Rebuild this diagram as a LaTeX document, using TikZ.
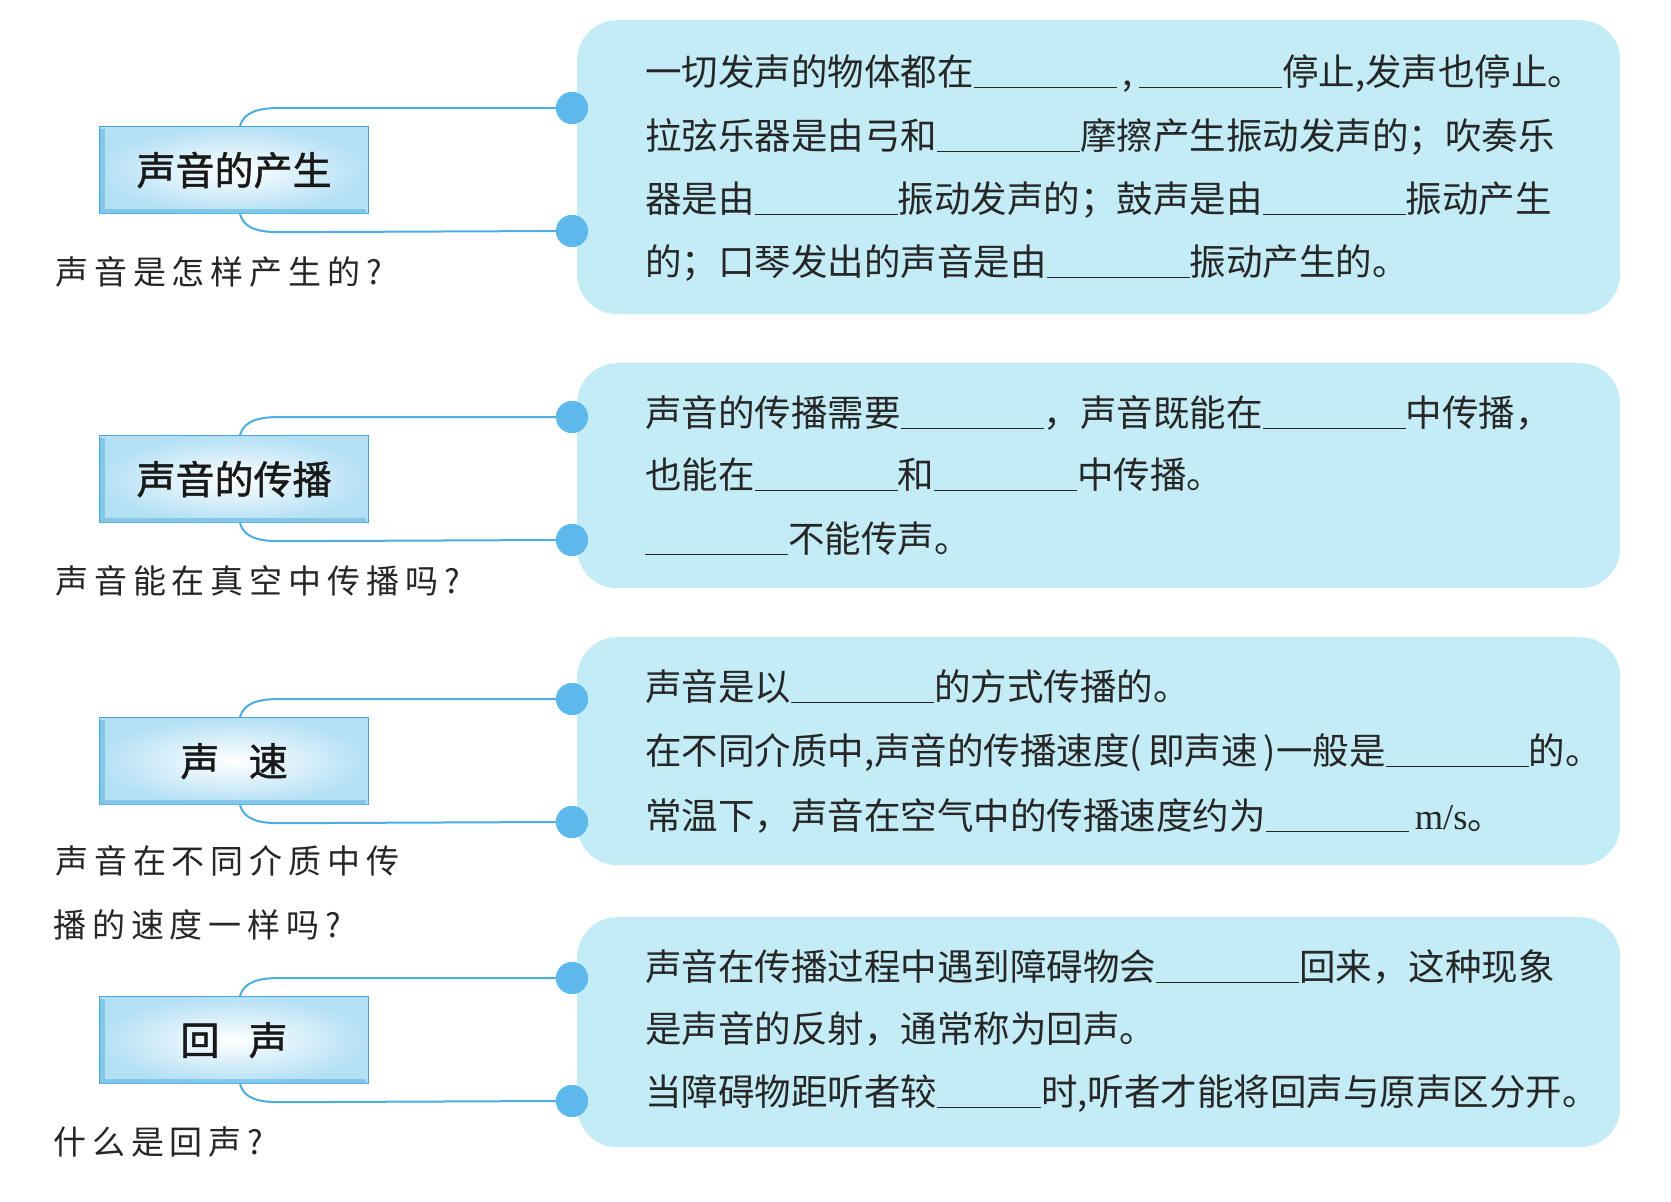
\documentclass[tikz,border=0pt]{standalone}
\usepackage{fontspec}
\setmainfont{Noto Sans CJK SC}
\newfontfamily\qfont[LetterSpace=18]{Noto Sans CJK SC}
\newfontfamily\tfont[FakeBold=1.2]{Noto Sans CJK SC}
\newfontfamily\latfont{Liberation Serif}
\definecolor{panelc}{HTML}{C3ECF6}
\definecolor{dotc}{HTML}{5DB9EC}
\definecolor{linec}{HTML}{4BADE0}
\definecolor{boxb}{HTML}{4AA3D6}
\definecolor{boxo}{HTML}{B4E0F5}
\definecolor{boxsh}{HTML}{6DBDE6}
\newcommand\blank[1]{\rule[-3pt]{#1pt}{1.5pt}}
\tikzset{
 panel/.style={fill=panelc, rounded corners=40pt, anchor=north west, inner sep=0pt},
 titlebox/.style={draw=boxb, line width=1.2pt, inner color=white, outer color=boxo,
   minimum width=269pt, minimum height=87pt, anchor=north west,
   font=\tfont\fontsize{39pt}{40pt}\selectfont, text=black!90},
 boxshade/.style={draw=boxsh, line width=5pt, opacity=0.7},
 dotn/.style={circle, fill=dotc, minimum size=32pt, inner sep=0pt},
 conn/.style={draw=linec, line width=2pt},
 ptext/.style={anchor=base west, inner sep=0pt, font=\fontsize{36.5pt}{40pt}\selectfont, text=black!85},
 qtext/.style={anchor=base west, inner sep=0pt, font=\qfont\fontsize{33pt}{40pt}\selectfont, text=black!85},
}
\begin{document}
\begin{tikzpicture}[x=1pt,y=-1pt]
\fill[white] (0,0) rectangle (1671,1202);
\useasboundingbox (0,0) rectangle (1671,1202);

% panels
\node[panel, minimum width=1043pt, minimum height=294pt] (p1) at (577,20) {};
\node[panel, minimum width=1043pt, minimum height=225pt] (p2) at (577,363) {};
\node[panel, minimum width=1043pt, minimum height=228pt] (p3) at (577,637) {};
\node[panel, minimum width=1043pt, minimum height=230pt] (p4) at (577,917) {};

% dots
\node[dotn] (d1a) at (572,108) {};
\node[dotn] (d1b) at (572,231) {};
\node[dotn] (d2a) at (572,417) {};
\node[dotn] (d2b) at (572,540) {};
\node[dotn] (d3a) at (572,699) {};
\node[dotn] (d3b) at (572,822) {};
\node[dotn] (d4a) at (572,978) {};
\node[dotn] (d4b) at (572,1101) {};

% title boxes
\node[titlebox] (b1) at (99,126) {声音的产生};
\node[titlebox] (b2) at (99,435) {声音的传播};
\node[titlebox] (b3) at (99,717) {声\hspace{0.75em}速};
\node[titlebox] (b4) at (99,996) {回\hspace{0.75em}声};

% connectors
\foreach \b/\da/\db in {b1/d1a/d1b, b2/d2a/d2b, b3/d3a/d3b, b4/d4a/d4b}{
  \draw[conn] ([xshift=141pt]\b.north west) .. controls +(4,-14) and +(-22,0) .. +(40,-18) -- (\da.west);
  \draw[conn] ([xshift=141pt]\b.south west) .. controls +(4,14) and +(-22,0) .. +(40,18) -- (\db.west);
  \draw[boxshade] ([xshift=3pt,yshift=-3pt]\b.north west) -- ([xshift=3pt,yshift=3pt]\b.south west) -- ([xshift=-3pt,yshift=3pt]\b.south east);
}
% redraw dots on top
\foreach \d in {d1a,d1b,d2a,d2b,d3a,d3b,d4a,d4b}{
  \fill[dotc] (\d) circle (16pt);
}

% panel texts
\node[ptext] (t11) at (645,85) {一切发声的物体都在\blank{143}\,,\,\blank{143}停止,发声也停止。};
\node[ptext] (t12) at (645,149) {拉弦乐器是由弓和\blank{143}摩擦产生振动发声的；吹奏乐};
\node[ptext] (t13) at (645,212) {器是由\blank{143}振动发声的；鼓声是由\blank{143}振动产生};
\node[ptext] (t14) at (645,275) {的；口琴发出的声音是由\blank{143}振动产生的。};

\node[ptext] (t21) at (645,426) {声音的传播需要\blank{143}，声音既能在\blank{143}中传播，};
\node[ptext] (t22) at (645,488) {也能在\blank{143}和\blank{143}中传播。};
\node[ptext] (t23) at (645,552) {\blank{143}不能传声。};

\node[ptext] (t31) at (645,700) {声音是以\blank{143}的方式传播的。};
\node[ptext] (t32) at (645,764) {在不同介质中,声音的传播速度(\,即声速\,)一般是\blank{143}的。};
\node[ptext] (t33) at (645,829) {常温下，声音在空气中的传播速度约为\blank{143}\,{\latfont m/s}。};

\node[ptext] (t41) at (645,980) {声音在传播过程中遇到障碍物会\blank{143}回来，这种现象};
\node[ptext] (t42) at (645,1042) {是声音的反射，通常称为回声。};
\node[ptext] (t43) at (645,1105) {当障碍物距听者较\blank{104}时,听者才能将回声与原声区分开。};

% questions
\node[qtext] (q1) at (55,284) {声音是怎样产生的?};
\node[qtext] (q2) at (55,593) {声音能在真空中传播吗?};
\node[qtext] (q3a) at (55,873) {声音在不同介质中传};
\node[qtext] (q3b) at (53,937) {播的速度一样吗?};
\node[qtext] (q4) at (53,1154) {什么是回声?};
\end{tikzpicture}
\end{document}
